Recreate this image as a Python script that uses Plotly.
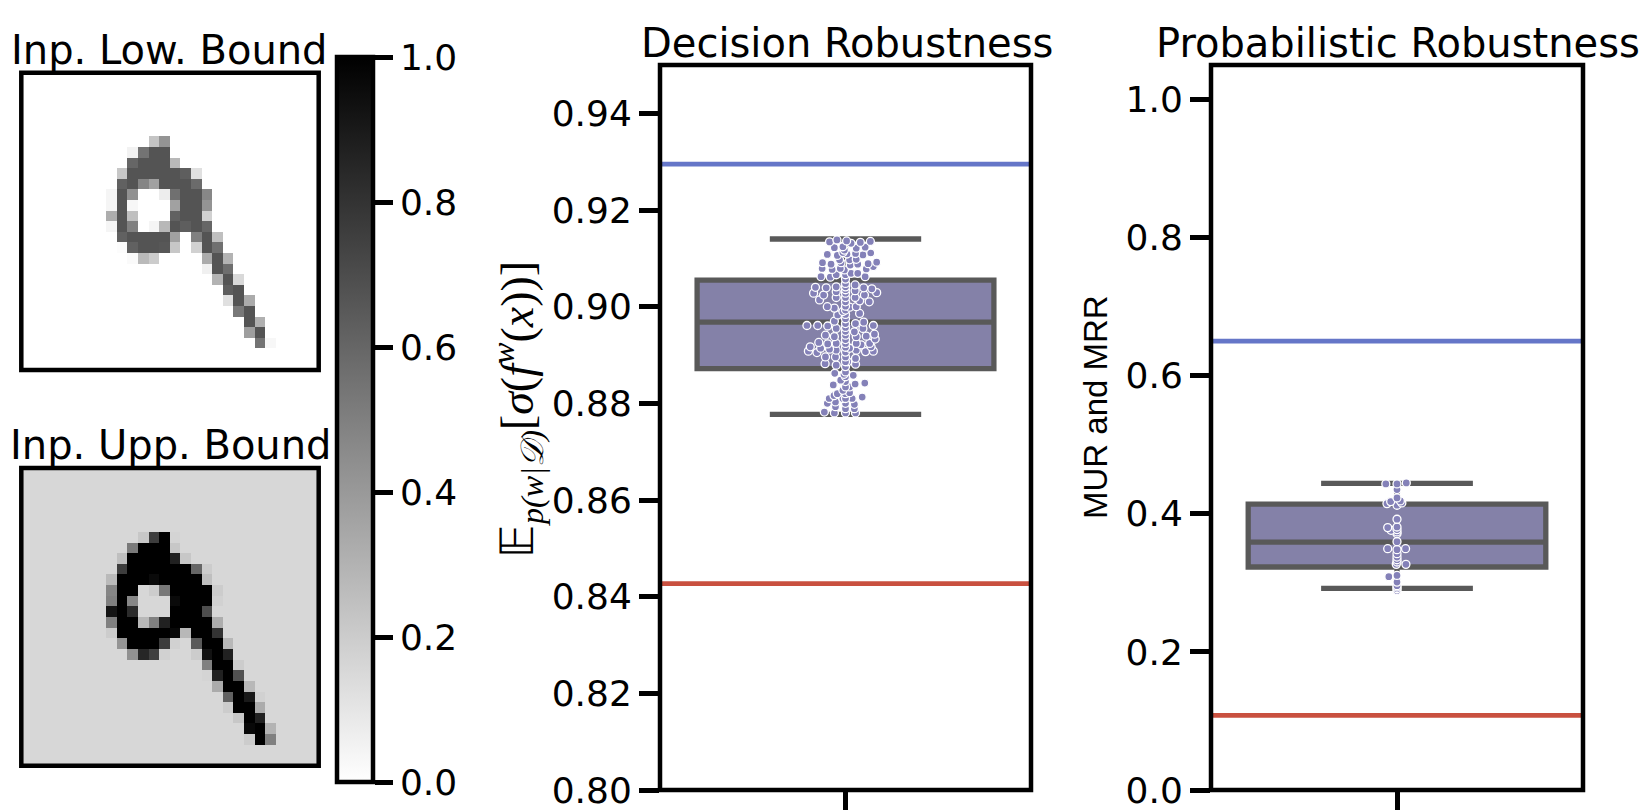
import plotly.graph_objects as go

W, H = 1650, 810

# --- input bound images: row -> (first column, pixel values)
LOW_ROWS = {
    6: (12, [.23, .42]),
    7: (10, [.05, .55, .67, .67]),
    8: (10, [.60, .67, .67, .67, .28]),
    9: (9, [.22, .67, .67, .67, .67, .67, .63, .12]),
    10: (9, [.62, .67, .48, .37, .67, .67, .67, .58]),
    11: (8, [.04, .67, .43, 0, 0, .07, .56, .67, .67, .47]),
    12: (8, [.04, .67, .03, 0, 0, 0, .37, .67, .67, .42]),
    13: (8, [.32, .67, .25, 0, 0, 0, .62, .67, .67, .18]),
    14: (8, [.04, .67, .50, 0, .04, .28, .67, .63, .67, .60]),
    15: (9, [.62, .67, .67, .67, .67, .37, 0, .50, .67, .25]),
    16: (9, [.01, .62, .67, .67, .66, .22, 0, .18, .67, .56]),
    17: (10, [.02, .27, .20, 0, 0, 0, 0, .33, .67, .30]),
    18: (17, [.06, .67, .57]),
    19: (18, [.30, .67, .15]),
    20: (19, [.63, .67]),
    21: (19, [.12, .67, .33]),
    22: (20, [.53, .67]),
    23: (21, [.67, .31]),
    24: (21, [.38, .67]),
    25: (22, [.55, .03]),
}
UPP_BACKGROUND = 0.155
UPP_ROWS = {
    6: (11, [.22, .76, 1, .17]),
    7: (10, [.52, 1, 1, 1, .22]),
    8: (9, [.25, 1, 1, 1, 1, .87, .22]),
    9: (9, [.76, 1, 1, 1, 1, 1, 1, .60, .20]),
    10: (8, [.27, 1, 1, 1, .96, 1, 1, 1, 1, .25]),
    11: (8, [.48, 1, 1, .155, .20, .53, 1, 1, 1, 1, .20]),
    12: (8, [.50, 1, .47, .155, .155, .155, .96, 1, 1, 1, .18]),
    13: (8, [.92, 1, .83, .155, .155, .155, 1, 1, 1, .70, .155]),
    14: (8, [.50, 1, 1, .28, .50, .87, 1, 1, 1, 1, .32]),
    15: (8, [.20, 1, 1, 1, 1, 1, .97, .28, 1, 1, .80]),
    16: (9, [.42, 1, 1, 1, .76, .18, .155, .65, 1, 1, .28]),
    17: (10, [.43, .85, .75, .18, .155, .155, .20, .93, 1, .87]),
    18: (17, [.50, 1, 1, .20]),
    19: (17, [.17, .87, 1, .68]),
    20: (18, [.33, 1, 1, .28]),
    21: (19, [.62, 1, .90, .18]),
    22: (19, [.20, 1, 1, .33]),
    23: (20, [.22, 1, .87]),
    24: (21, [.97, 1, .30]),
    25: (21, [.20, 1, .50]),
}

# --- Decision Robustness
DR_BLUE_LINE = 0.9295
DR_RED_LINE = 0.8427
DR_Q1, DR_MEDIAN, DR_Q3 = 0.8872, 0.8968, 0.9055
DR_LOW_WHISKER, DR_HIGH_WHISKER = 0.8777, 0.9140
DR_VALUES = [
    .9134, .9138, .9136, .9133, .9135, .9122, .9124, .9131, .9121, .9123, .9117,
    .9108, .9106, .9109, .9110, .9107, .9111, .9112, .9097, .9091, .9088, .9079,
    .9077, .9091, .9097, .9088, .9089, .9092, .9083, .9078, .9086, .9098, .9062,
    .9061, .9066, .9076, .9066, .9069, .9069, .9062, .9079,
    .9040, .9028, .9039, .9024, .9041, .9031, .9019, .9045, .9033, .9019, .9039,
    .9037, .9029, .9024, .9010, .9012, .9014, .9000, .8997, .8999, .9000, .8986,
    .8990, .8983, .8961, .8961, .8960, .8970, .8955, .8965, .8968, .8961, .8955,
    .8948, .8941, .8938, .8938, .8939, .8943, .8933, .8926, .8923, .8924, .8924,
    .8921, .8924, .8917, .8908, .8914, .8905, .8912, .8910, .8914, .8910, .8907,
    .8908, .8917, .8896, .8896, .8893, .8882, .8879, .8881, .8886, .8862, .8858,
    .8860, .8838, .8840, .8842, .8848, .8834, .8827, .8820, .8822, .8816, .8810,
    .8813, .8810, .8810, .8800, .8803, .8798, .8793, .8789, .8782, .8780, .8780,
    .9057, .9048, .9041, .9035, .9028, .9019, .9010, .9001, .8993, .8984, .8975,
    .8965, .8957, .8949, .8941, .8932, .8924, .8916, .8906, .8896, .8886, .8876,
    .8865, .8855, .8845, .8834, .8820, .8810, .8800, .8789, .8780,
]
DR_SWARM_OFFSETS = [
    -.043, -.023, .003, .040, .067, -.030, -.007, .015, .029, .053, -.003,
    -.049, -.022, .004, .027, .047, .068, -.007, -.016, -.062, -.039, -.063,
    -.036, -.012, .011, .033, .061, .084, .075, .056, .013, .029, -.066,
    -.041, -.025, -.003, 0, .015, .033, .053, -.014,
    -.081, -.086, -.052, -.059, -.025, -.025, -.025, .026, .026, .026, .049,
    .071, .084, .051, .064, .038, -.070, -.049, -.030, .011, .029, .038,
    -.007, -.021, -.104, -.075, -.048, -.030, -.025, .027, .049, .075, .047,
    .024, -.054, -.030, .029, .056, .078, .080, -.072, -.048, -.025, .029,
    .042, .065, -.095, -.100, -.067, -.077, -.043, -.025, .011, .029, .054,
    .075, .069, -.054, -.027, .027, -.055, -.025, .027, .006, -.029, .021,
    -.004, -.033, .026, .052, -.013, .011, -.007, -.022, .011, -.031, -.044,
    .045, .018, -.007, -.049, -.027, .024, -.027, .024, -.057, -.030, .027,
    0, 0, 0, 0, 0, 0, 0, 0, 0, 0, 0,
    0, 0, 0, 0, 0, 0, 0, 0, 0, 0, 0,
    0, 0, 0, 0, 0, 0, 0, 0, 0,
]

# --- Probabilistic Robustness
PR_BLUE_LINE = 0.650
PR_RED_LINE = 0.108
PR_Q1, PR_MEDIAN, PR_Q3 = 0.323, 0.359, 0.414
PR_LOW_WHISKER, PR_HIGH_WHISKER = 0.292, 0.444
PR_VALUES = [
    .4433, .4433, .4448, .4351, .4230, .4177, .4148, .4187, .4158, .4124, .3921,
    .3800, .3809, .3761, .3771, .3737, .3713, .3597, .3495, .3481, .3495, .3422,
    .3374, .3335, .3302, .3268, .3268, .3089, .3108, .3011, .2958, .2939, .2915, .2891,
]
PR_SWARM_OFFSETS = [
    -.030, 0, .025, 0, 0, -.017, -.027, .009, .013, 0, 0,
    -.025, 0, -.016, 0, 0, 0, 0, -.025, 0, .023, 0,
    0, 0, 0, -.002, .024, -.022, 0, 0, 0, 0, 0, 0,
]

TITLES = ["Inp. Low. Bound", "Inp. Upp. Bound", "Decision Robustness", "Probabilistic Robustness"]
DR_TICKS = [0.80, 0.82, 0.84, 0.86, 0.88, 0.90, 0.92, 0.94]
PR_TICKS = [0.0, 0.2, 0.4, 0.6, 0.8, 1.0]
CB_TICKS = [0.0, 0.2, 0.4, 0.6, 0.8, 1.0]

BOX_FILL = "#8481a8"
BOX_LINE = "#595959"
DOT = "#8481b8"
BLUE = "#6576c8"
RED = "#c9503f"
FONT = "DejaVu Sans"
TICK_SIZE = 36
TITLE_SIZE = 40
SPINE = 4.5


def build_image(rows, background):
    grid = [[background] * 28 for _ in range(28)]
    for r, (start, vals) in rows.items():
        for i, v in enumerate(vals):
            grid[r][start + i] = v
    return grid


def dom_x(a, b):
    return [a / W, b / W]


def dom_y(top, bottom):
    return [1 - bottom / H, 1 - top / H]


fig = go.Figure()
fig.add_trace(go.Heatmap(z=build_image(LOW_ROWS, 0), coloraxis="coloraxis", xaxis="x", yaxis="y", hoverinfo="skip"))
fig.add_trace(go.Heatmap(z=build_image(UPP_ROWS, UPP_BACKGROUND), coloraxis="coloraxis", xaxis="x2", yaxis="y2", hoverinfo="skip"))


def add_panel(xa, ya, q1, med, q3, lo, hi, vals, offs, blue, red):
    fig.add_trace(go.Box(x=[0], q1=[q1], median=[med], q3=[q3], lowerfence=[lo], upperfence=[hi],
                         width=0.8, whiskerwidth=0.51, fillcolor=BOX_FILL, boxpoints=False,
                         line=dict(color=BOX_LINE, width=5.3), xaxis=xa, yaxis=ya))
    # lower values first, so that the upper dot of a stack lies on top, as in the swarm
    order = sorted(range(len(vals)), key=lambda i: vals[i])
    fig.add_trace(go.Scatter(x=[offs[i] for i in order], y=[vals[i] for i in order], mode="markers",
                             xaxis=xa, yaxis=ya,
                             marker=dict(color=DOT, size=8, line=dict(color="white", width=1.3))))
    for val, col in ((blue, BLUE), (red, RED)):
        fig.add_trace(go.Scatter(x=[-0.5, 0.5], y=[val, val], mode="lines", xaxis=xa, yaxis=ya,
                                 line=dict(color=col, width=4.7)))


add_panel("x3", "y3", DR_Q1, DR_MEDIAN, DR_Q3, DR_LOW_WHISKER, DR_HIGH_WHISKER,
          DR_VALUES, DR_SWARM_OFFSETS, DR_BLUE_LINE, DR_RED_LINE)
add_panel("x4", "y4", PR_Q1, PR_MEDIAN, PR_Q3, PR_LOW_WHISKER, PR_HIGH_WHISKER,
          PR_VALUES, PR_SWARM_OFFSETS, PR_BLUE_LINE, PR_RED_LINE)

hidden = dict(showticklabels=False, ticks="", showgrid=False, zeroline=False, showline=False)
val_x = dict(range=[-0.5, 0.5], tickmode="array", tickvals=[0], showticklabels=False, ticks="outside",
             ticklen=24, tickwidth=SPINE, tickcolor="black", showgrid=False, zeroline=False, showline=False)


def val_y(rng, ticks, fmt):
    return dict(range=rng, tickmode="array", tickvals=ticks, tickformat=fmt, ticks="outside", ticklen=20,
                tickwidth=SPINE, tickcolor="black", showgrid=False, zeroline=False, showline=False,
                ticklabeloverflow="allow",
                tickfont=dict(family=FONT, size=TICK_SIZE, color="black"))


frames = [("x", "y"), ("x2", "y2"), ("x3", "y3"), ("x4", "y4")]
shapes = [dict(type="rect", xref=f"{a} domain", yref=f"{b} domain", x0=0, x1=1, y0=0, y1=1,
               line=dict(color="black", width=SPINE), layer="above") for a, b in frames]


def label(text, x, y, size=TITLE_SIZE, family=FONT, angle=0):
    return dict(text=text, x=x / W, y=1 - y / H, xref="paper", yref="paper", showarrow=False,
                xanchor="center", yanchor="middle", textangle=angle,
                font=dict(family=family, size=size, color="black"))


annotations = [
    label(TITLES[0], 169.5, 50),
    label(TITLES[1], 170, 445),
    label(TITLES[2], 847, 43),
    label(TITLES[3], 1397.5, 43),
    label("MUR and MRR", 1095, 407, size=33, family="Liberation Sans", angle=-90),
    label("𝔼<sub><i>p(w|𝒟)</i></sub>[<i>σ</i>(<i>f<sup>w</sup></i>(<i>x</i>))]", 517, 410,
          size=46, family="Liberation Serif", angle=-90),
]

fig.update_layout(
    width=W, height=H, showlegend=False, paper_bgcolor="white", plot_bgcolor="white",
    margin=dict(l=0, r=0, t=0, b=0, autoexpand=False),
    coloraxis=dict(cmin=0, cmax=1, colorscale=[[0, "#ffffff"], [1, "#000000"]],
                   colorbar=dict(x=337 / W, xanchor="left", xpad=0, ypad=0, y=1 - 57 / H, yanchor="top",
                                 lenmode="pixels", len=725, thicknessmode="pixels", thickness=36,
                                 outlinewidth=SPINE, outlinecolor="black", ticks="outside", ticklen=18,
                                 tickwidth=SPINE, tickcolor="black", tickmode="array", tickvals=CB_TICKS,
                                 tickformat=".1f", tickfont=dict(family=FONT, size=TICK_SIZE, color="black"))),
    xaxis=dict(domain=dom_x(21.3, 318.7), range=[-0.5, 27.5], anchor="y", **hidden),
    yaxis=dict(domain=dom_y(72.7, 370), range=[27.5, -0.5], anchor="x", **hidden),
    xaxis2=dict(domain=dom_x(21.3, 318.7), range=[-0.5, 27.5], anchor="y2", **hidden),
    yaxis2=dict(domain=dom_y(468, 765.7), range=[27.5, -0.5], anchor="x2", **hidden),
    xaxis3=dict(domain=dom_x(660, 1031), anchor="y3", **val_x),
    yaxis3=dict(domain=dom_y(65, 790), anchor="x3", **val_y([0.80, 0.95], DR_TICKS, ".2f")),
    xaxis4=dict(domain=dom_x(1211, 1583), anchor="y4", **val_x),
    yaxis4=dict(domain=dom_y(65, 790), anchor="x4", **val_y([0.0, 1.05], PR_TICKS, ".1f")),
    shapes=shapes, annotations=annotations,
)

fig.write_html("out.html", config=dict(displayModeBar=False),
               post_script="document.body.style.margin='0';document.body.style.overflow='hidden';")
